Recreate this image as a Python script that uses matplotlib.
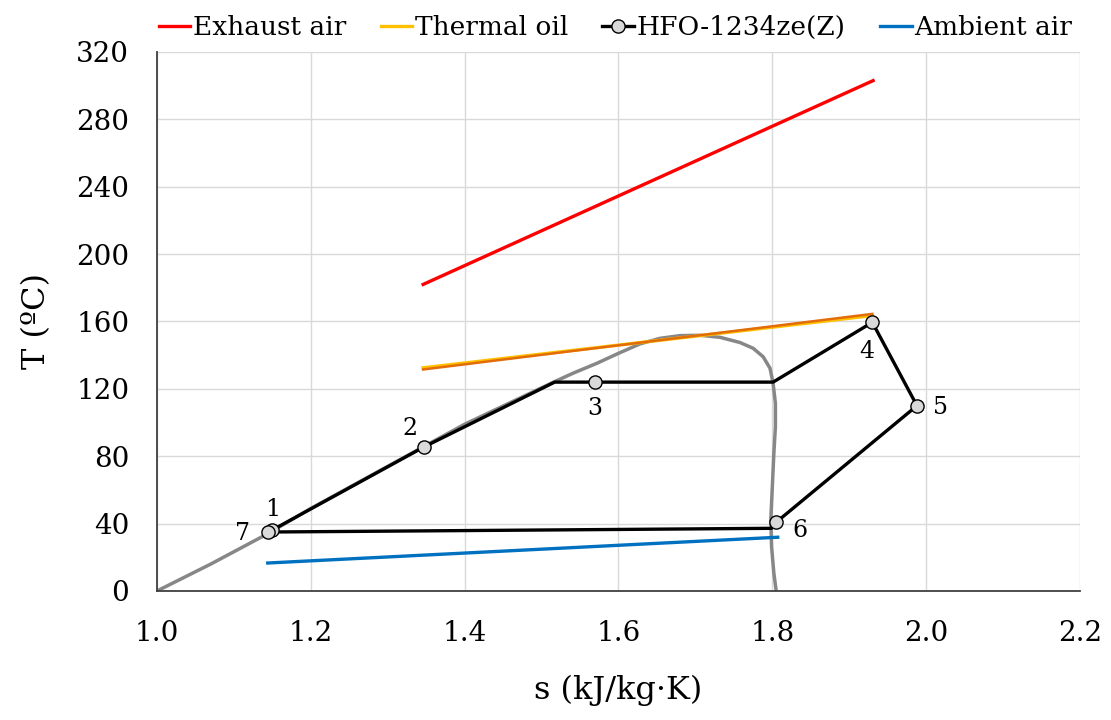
import matplotlib.pyplot as plt

# --- data ---
exhaust_s = [1.346, 1.931]
exhaust_T = [182.0, 303.0]

oil_s = [1.346, 1.930]
oil_T = [132.5, 163.5]
oil2_s = [1.346, 1.930]
oil2_T = [131.5, 164.5]

ambient_s = [1.144, 1.807]
ambient_T = [16.6, 31.9]

# cycle path (with corner points on the dome)
cycle_s = [1.150, 1.347, 1.517, 1.569, 1.801, 1.930, 1.988, 1.805, 1.799, 1.144, 1.150]
cycle_T = [36.2, 85.5, 124.0, 124.0, 124.0, 159.5, 110.0, 40.8, 37.2, 35.0, 36.2]

# numbered state points
state_s = [1.150, 1.347, 1.569, 1.930, 1.988, 1.805, 1.144]
state_T = [36.2, 85.5, 124.0, 159.5, 110.0, 40.8, 35.0]
state_lbl = ['1', '2', '3', '4', '5', '6', '7']

# saturation dome
dome_s = [1.000, 1.070, 1.144, 1.200, 1.300, 1.400, 1.517, 1.541, 1.572, 1.600,
          1.628, 1.654, 1.680, 1.706, 1.732, 1.758, 1.775, 1.788, 1.797, 1.801,
          1.804, 1.804, 1.802, 1.800, 1.798, 1.799, 1.802, 1.805]
dome_T = [0.0, 16.0, 34.0, 49.0, 74.0, 99.0, 124.3, 129.3, 135.2, 141.1,
          146.7, 150.0, 151.6, 151.8, 150.6, 147.5, 144.1, 139.1, 132.2, 123.3,
          111.4, 97.6, 81.8, 62.0, 42.2, 26.3, 10.5, 0.0]

plt.rcParams['font.family'] = ['DejaVu Serif']

fig = plt.figure(figsize=(11.11, 7.2), dpi=100)
ax = fig.add_axes([0.1413, 0.1792, 0.8308, 0.7486])

ax.plot(dome_s, dome_T, color='#878787', lw=2.5, zorder=2, solid_joinstyle='round')
ax.plot(exhaust_s, exhaust_T, color='#ff0000', lw=2.4, label='Exhaust air', zorder=3)
ax.plot(oil_s, oil_T, color='#ffc000', lw=2.4, label='Thermal oil', zorder=3)
ax.plot(oil2_s, oil2_T, color='#e36c0a', lw=1.8, zorder=3)
ax.plot(cycle_s, cycle_T, color='black', lw=2.4, zorder=4)
ax.plot(state_s, state_T, ls='none', marker='o', ms=9.5, mfc='#d9d9d9',
        mec='black', mew=1.0, zorder=5)
# legend proxy for the cycle
ax.plot([], [], color='black', lw=2.4, marker='o', ms=9.5, mfc='#d9d9d9',
        mec='black', mew=1.0, label='HFO-1234ze(Z)')
ax.plot(ambient_s, ambient_T, color='#0070c0', lw=2.4, label='Ambient air', zorder=3)

offsets = {'1': (0, 15), '2': (-10, 13), '3': (0, -19), '4': (-4, -21),
           '5': (17, -1), '6': (17, -6), '7': (-18, -1)}
for s, T, lbl in zip(state_s, state_T, state_lbl):
    ax.annotate(lbl, (s, T), xytext=offsets[lbl], textcoords='offset points',
                ha='center', va='center', fontsize=17, zorder=6)

ax.set_xlim(1.0, 2.2)
ax.set_ylim(0, 320)
ax.set_xticks([1.0, 1.2, 1.4, 1.6, 1.8, 2.0, 2.2])
ax.set_xticklabels(['1.0', '1.2', '1.4', '1.6', '1.8', '2.0', '2.2'])
ax.set_yticks(range(0, 321, 40))
ax.tick_params(length=0, labelsize=20)
ax.tick_params(axis='x', pad=21)
ax.tick_params(axis='y', pad=20)
ax.grid(True, color='#d9d9d9', lw=1.0)
ax.set_axisbelow(True)
for side in ['top', 'right']:
    ax.spines[side].set_visible(False)
for side in ['left', 'bottom']:
    ax.spines[side].set_color('#404040')
    ax.spines[side].set_linewidth(1.3)

ax.set_xlabel('s (kJ/kg·K)', fontsize=23, labelpad=20)
ax.set_ylabel('T (ºC)', fontsize=23, labelpad=17)

fig.legend(loc='upper center', bbox_to_anchor=(0.554, 1.012), ncol=4, frameon=False,
           fontsize=19, handlelength=1.2, handletextpad=0.1, columnspacing=1.3)

plt.savefig('out.png', dpi=100)
